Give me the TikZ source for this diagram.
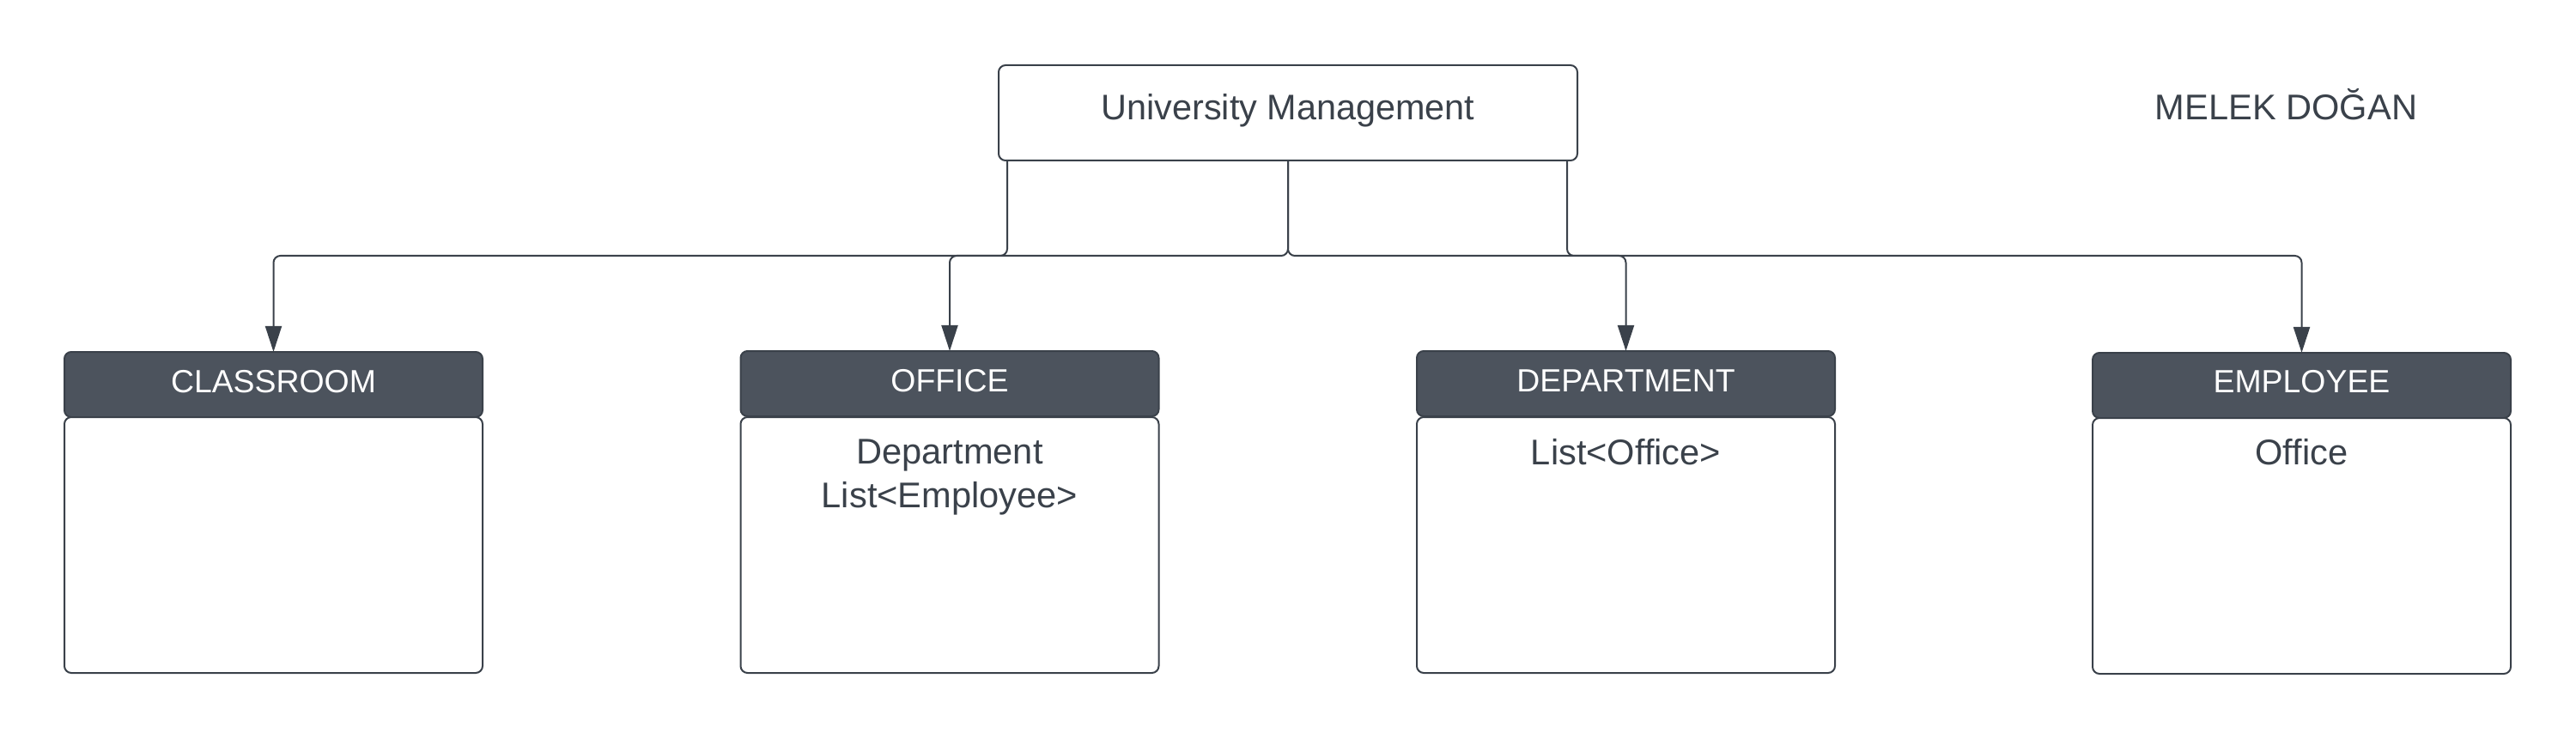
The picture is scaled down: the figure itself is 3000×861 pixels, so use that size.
\documentclass[tikz,border=0pt]{standalone}
\usepackage{fontspec}
\setmainfont{Liberation Sans}
\usetikzlibrary{arrows.meta}
\definecolor{linec}{HTML}{3A414A}
\definecolor{hdrfill}{HTML}{4C535D}
\definecolor{txtc}{HTML}{3A414A}
\tikzset{
  box/.style={draw=linec, line width=1pt, rounded corners=4pt, inner sep=0pt, outer sep=0pt, fill=white},
  hdr/.style={box, fill=hdrfill, minimum width=243.5pt, minimum height=38pt},
  bodybox/.style={box, minimum width=243.5pt, minimum height=149pt},
  hdrtext/.style={text=white, font=\fontsize{18.7}{22}\selectfont, anchor=base, inner sep=0pt},
  bodytext/.style={text=txtc, font=\fontsize{20.8}{24}\selectfont, anchor=base, inner sep=0pt},
  conn/.style={draw=linec, line width=1pt, rounded corners=4pt, -{Triangle[length=15pt,width=9.5pt]}},
}
\begin{document}
\begin{tikzpicture}[x=0.5pt,y=-0.5pt]
\useasboundingbox (0,0) rectangle (3000,861);
% top node
\node[box, minimum width=337pt, minimum height=55.5pt] (um) at (1500,131.5) {};
\node[bodytext, font=\fontsize{20.7}{24}\selectfont] (umt) at (1500,139.3) {University Management};
\node[bodytext] (author) at (2662.5,140) {MELEK DOĞAN};
% headers
\node[hdr] (chead) at (318.5,448) {};
\node[hdr] (ohead) at (1106,447) {};
\node[hdr] (dhead) at (1893.5,447) {};
\node[hdr] (ehead) at (2680.5,449) {};
% bodies
\node[bodybox, anchor=north] (cbody) at (318.5,486) {};
\node[bodybox, anchor=north] (obody) at (1106,486) {};
\node[bodybox, anchor=north] (dbody) at (1893.5,486) {};
\node[bodybox, anchor=north] (ebody) at (2680.5,487) {};
% header texts
\node[hdrtext] (ct) at (318.5,457) {CLASSROOM};
\node[hdrtext] (ot) at (1106,456) {OFFICE};
\node[hdrtext] (dt) at (1893.5,456) {DEPARTMENT};
\node[hdrtext] (et) at (2680.5,458) {EMPLOYEE};
% body texts
\node[bodytext] (o1) at (1106,540) {Department};
\node[bodytext] (o2) at (1106,591) {List<Employee>};
\node[bodytext] (d1) at (1893.5,541) {List<Office>};
\node[bodytext] (e1) at (2680.5,541) {Office};
% connectors
\draw[conn] ([xshift=5pt]um.south west) -- ++(0,-55.5pt) -| (chead.north);
\draw[conn] (um.south) -- ++(0,-55.5pt) -| (ohead.north);
\draw[conn] (um.south) -- ++(0,-55.5pt) -| (dhead.north);
\draw[conn] ([xshift=-6pt]um.south east) -- ++(0,-55.5pt) -| (ehead.north);
\end{tikzpicture}
\end{document}
